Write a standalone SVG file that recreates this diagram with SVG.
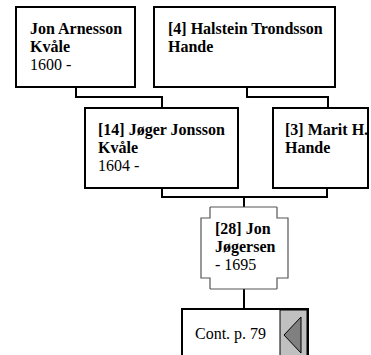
<svg xmlns="http://www.w3.org/2000/svg" width="371" height="355" viewBox="0 0 371 355">
<style>
.box{fill:#fff;stroke:#000;stroke-width:2}
.t{font-size:16px;fill:#000}
.b{font-weight:bold}
.c{fill:none;stroke:#000;stroke-width:2}
.br{fill:none;stroke:#555;stroke-width:1.2}
</style>
<rect width="371" height="355" fill="#fff"/>
<g id="connectors">
<polyline class="c" points="76,87 76,97 162,97 162,107"/>
<polyline class="c" points="247,87 247,97 328,97 328,107"/>
<polyline class="c" points="162,188 162,197 327,197 327,188"/>
<line class="c" x1="244" y1="197" x2="244" y2="207"/>
<line class="c" x1="244" y1="289" x2="244" y2="308"/>
</g>
<g font-family="'Liberation Serif', 'DejaVu Serif', serif">
<g id="n1">
<rect class="box" x="16" y="7" width="119" height="80"/>
<text class="t b" x="30" y="34">Jon Arnesson</text>
<text class="t b" x="30" y="52">Kvåle</text>
<text class="t" x="30" y="70">1600 -</text>
</g>
<g id="n2">
<rect class="box" x="154" y="7" width="181" height="80"/>
<text class="t b" x="168" y="34">[4] Halstein Trondsson</text>
<text class="t b" x="168" y="52">Hande</text>
</g>
<g id="n3">
<rect class="box" x="85" y="108" width="153" height="80"/>
<text class="t b" x="98" y="135">[14] Jøger Jonsson</text>
<text class="t b" x="98" y="153">Kvåle</text>
<text class="t" x="98" y="171">1604 -</text>
</g>
<g id="n4">
<rect class="box" x="273" y="108" width="95" height="80"/>
<text class="t b" x="285" y="135">[3] Marit H.</text>
<text class="t b" x="285" y="153">Hande</text>
</g>
<g id="n5">
<line class="br" x1="210" y1="207" x2="277" y2="207"/>
<line class="br" x1="210" y1="289" x2="277" y2="289"/>
<polyline class="br" points="210,207 210,218 201,218 201,278 210,278 210,289"/>
<polyline class="br" points="277,207 277,218 288,218 288,278 277,278 277,289"/>
<text class="t b" x="215" y="234">[28] Jon</text>
<text class="t b" x="215" y="252">Jøgersen</text>
<text class="t" x="215" y="270">- 1695</text>
</g>
<g id="n6">
<rect class="box" x="182" y="309" width="126" height="60"/>
<rect x="280" y="310" width="27" height="50" fill="#c0c0c0" stroke="#000" stroke-width="1"/>
<polygon points="284,335 301,317 301,353" fill="#808080" stroke="#000" stroke-width="1"/>
<text class="t" x="195" y="339">Cont. p. 79</text>
</g>
</g>
</svg>
